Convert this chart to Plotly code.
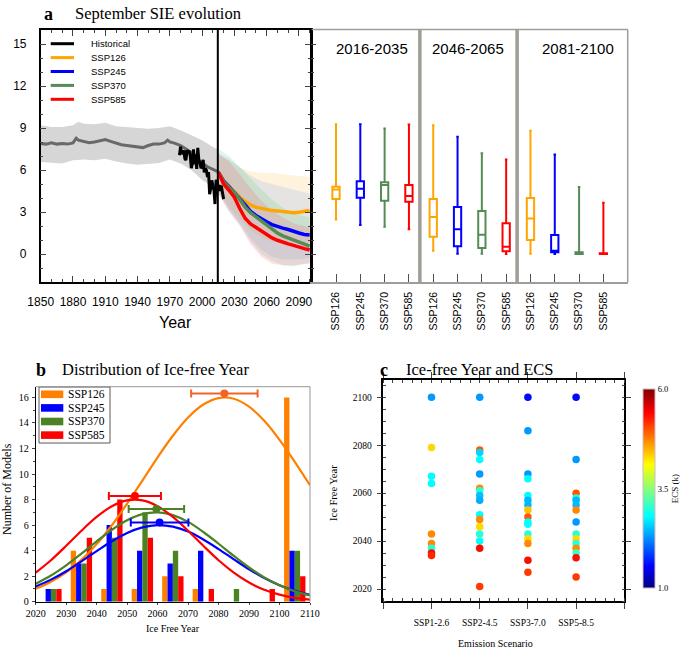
import plotly.graph_objects as go

# ---------------- Panel a data: September sea-ice extent (10^6 km^2) ----------------
hist_mean_years = [1850, 1855, 1860, 1865, 1870, 1875, 1880, 1883, 1885, 1890, 1895, 1900, 1905, 1910,
                   1915, 1920, 1925, 1930, 1935, 1940, 1945, 1950, 1955, 1960, 1965, 1968, 1970, 1975,
                   1980, 1985, 1990, 1995, 2000, 2005, 2010, 2014]
hist_mean = [7.90, 7.85, 7.95, 7.85, 7.90, 7.85, 7.94, 8.27, 8.13, 8.04, 7.95, 8.00, 8.08, 8.18,
             8.05, 7.90, 7.80, 7.75, 7.70, 7.65, 7.60, 7.75, 7.85, 7.85, 7.94, 8.13, 8.00, 7.90,
             7.75, 7.50, 7.23, 6.85, 6.50, 6.23, 6.04, 5.90]
hist_band_years = [1850, 1860, 1870, 1880, 1885, 1890, 1900, 1910, 1920, 1930, 1940, 1950, 1960,
                   1970, 1980, 1990, 2000, 2010, 2014]
hist_band_hi = [9.20, 9.08, 9.08, 9.20, 9.44, 9.30, 9.27, 9.37, 9.13, 9.05, 9.00, 8.94, 9.00,
                9.13, 8.84, 8.50, 8.13, 7.65, 7.50]
hist_band_lo = [6.58, 6.50, 6.47, 6.70, 6.72, 6.75, 6.70, 6.80, 6.60, 6.47, 6.37, 6.45, 6.50,
                6.75, 6.47, 6.00, 5.28, 4.80, 4.56]

obs_years = list(range(1979, 2021))
obs_sie = [7.05, 7.67, 7.14, 7.30, 7.39, 6.81, 6.70, 7.41, 7.28, 7.37, 7.01, 6.14, 6.47, 7.47,
           6.40, 7.14, 6.08, 7.58, 6.69, 6.54, 6.12, 6.25, 6.73, 5.83, 6.12, 5.98, 5.50, 5.86,
           4.27, 4.69, 5.26, 4.87, 4.56, 3.57, 5.21, 5.22, 4.62, 4.53, 4.82, 4.79, 4.36, 3.92]

proj_years = [2015, 2020, 2025, 2030, 2035, 2040, 2045, 2050, 2055, 2060, 2065, 2070, 2075, 2080,
              2085, 2090, 2095, 2100]
ssp126_mean = [5.85, 5.25, 4.85, 4.45, 4.05, 3.75, 3.50, 3.35, 3.25, 3.15, 3.10, 3.08, 3.02, 2.98,
               2.95, 2.98, 3.02, 3.10]
ssp245_mean = [5.85, 5.20, 4.80, 4.40, 3.95, 3.50, 3.05, 2.75, 2.50, 2.30, 2.10, 1.95, 1.85, 1.75,
               1.60, 1.50, 1.40, 1.36]
ssp370_mean = [5.85, 5.15, 4.75, 4.40, 3.90, 3.35, 2.95, 2.65, 2.40, 2.10, 1.80, 1.50, 1.30, 1.15,
               1.00, 0.82, 0.68, 0.57]
ssp585_mean = [5.85, 5.00, 4.55, 4.05, 3.25, 2.55, 2.15, 1.90, 1.65, 1.40, 1.15, 0.98, 0.82, 0.72,
               0.62, 0.48, 0.38, 0.29]

proj_band_years = [2015, 2025, 2035, 2045, 2055, 2065, 2075, 2085, 2100]
ssp126_hi = [7.0, 6.7, 6.2, 5.9, 5.8, 5.8, 5.7, 5.6, 5.5]
ssp126_lo = [4.5, 3.4, 2.5, 1.7, 1.2, 0.9, 0.8, 0.8, 0.8]
ssp245_hi = [7.2, 6.8, 6.2, 5.6, 5.2, 5.0, 4.8, 4.6, 4.3]
ssp245_lo = [4.4, 3.2, 2.2, 1.1, 0.3, -0.2, -0.4, -0.4, -0.3]
ssp370_hi = [7.5, 7.0, 6.2, 5.4, 4.6, 3.9, 3.3, 2.9, 2.6]
ssp370_lo = [4.4, 3.1, 2.1, 0.9, 0.0, -0.5, -0.8, -0.9, -0.6]
ssp585_hi = [7.2, 6.6, 5.7, 4.7, 3.8, 3.1, 2.6, 2.2, 1.9]
ssp585_lo = [4.3, 3.0, 2.0, 0.7, -0.2, -0.7, -0.8, -0.8, -0.7]

# box plots: 3 periods x 4 scenarios
period_labels = ["2016-2035", "2046-2065", "2081-2100"]
box_labels = ["SSP126", "SSP245", "SSP370", "SSP585"] * 3
box_max = [9.27, 9.27, 8.96, 9.25, 9.20, 8.37, 7.20, 6.75, 8.80, 7.10, 4.78, 3.66]
box_q3 = [4.80, 5.20, 5.13, 4.92, 3.92, 3.35, 3.07, 2.19, 4.00, 1.36, 0.12, 0.05]
box_med = [4.60, 4.66, 4.92, 4.14, 2.64, 1.76, 1.38, 0.52, 2.54, 0.24, 0.03, 0.00]
box_q1 = [3.92, 4.02, 3.80, 3.73, 1.23, 0.55, 0.43, 0.19, 1.00, 0.12, 0.00, 0.00]
box_min = [2.47, 2.07, 1.95, 1.76, 0.24, 0.02, 0.02, 0.00, 0.02, 0.00, 0.00, 0.00]

# ---------------- Panel b data ----------------
bin_centers = [2025, 2035, 2045, 2055, 2065, 2075, 2085, 2095, 2105]
count_ssp126 = [0, 4, 1, 1, 2, 1, 0, 0, 16]
count_ssp245 = [1, 3, 6, 4, 3, 4, 0, 0, 4]
count_ssp370 = [1, 3, 5, 7, 4, 0, 1, 0, 4]
count_ssp585 = [1, 5, 8, 5, 2, 1, 0, 1, 2]
fit_years = [2020, 2025, 2030, 2035, 2040, 2045, 2050, 2055, 2060, 2065, 2070, 2075, 2080, 2085,
             2090, 2095, 2100, 2105, 2110]
fit_ssp126 = [1.01, 1.56, 2.30, 3.28, 4.51, 5.99, 7.68, 9.48, 11.31, 13.00, 14.43, 15.45, 15.95,
              15.90, 15.28, 14.17, 12.68, 10.95, 9.12]
fit_ssp245 = [1.19, 1.73, 2.39, 3.16, 3.96, 4.73, 5.38, 5.82, 6.00, 5.88, 5.49, 4.87, 4.12, 3.32,
              2.54, 1.85, 1.29, 0.85, 0.53]
fit_ssp370 = [1.40, 2.05, 2.85, 3.76, 4.73, 5.63, 6.38, 6.86, 7.00, 6.78, 6.25, 5.46, 4.54, 3.58,
              2.68, 1.90, 1.29, 0.82, 0.50]
fit_ssp585 = [2.28, 3.25, 4.38, 5.56, 6.64, 7.48, 7.94, 7.94, 7.48, 6.64, 5.56, 4.38, 3.25, 2.28,
              1.50, 0.93, 0.55, 0.30, 0.16]
mean_year = [2081.9, 2060.65, 2059.6, 2052.55]
mean_err = [10.9, 9.45, 9.1, 8.55]
mean_level = [16.3, 6.2, 7.26, 8.28]

# ---------------- Panel c data ----------------
scen_c = ["SSP1-2.6", "SSP2-4.5", "SSP3-7.0", "SSP5-8.5"]
yr_126 = [2100, 2079, 2067, 2064, 2043, 2039, 2037, 2035, 2034]
ecs_126 = [2.3, 4.3, 2.8, 2.8, 4.7, 4.7, 3.0, 5.35, 5.2]
yr_245 = [2100, 2078, 2077, 2074, 2068, 2062, 2061, 2059, 2057, 2051, 2049, 2046, 2043, 2040, 2037, 2021]
ecs_245 = [2.3, 4.95, 2.6, 2.8, 2.3, 4.7, 3.0, 2.5, 2.4, 2.8, 4.7, 4.3, 3.0, 2.8, 5.35, 5.1]
yr_370 = [2100, 2086, 2068, 2066, 2059, 2057, 2055, 2053, 2050, 2048, 2047, 2043, 2041, 2039, 2032, 2027]
ecs_370 = [1.6, 2.3, 2.3, 2.8, 2.8, 2.45, 2.45, 4.4, 4.95, 2.8, 2.8, 3.0, 4.3, 4.7, 5.35, 5.1]
yr_585 = [2100, 2074, 2060, 2058, 2057, 2055, 2053, 2048, 2043, 2041, 2039, 2037, 2035, 2033, 2025]
ecs_585 = [1.6, 2.3, 4.95, 3.0, 2.45, 2.45, 4.7, 2.3, 3.0, 4.3, 3.0, 4.7, 3.1, 5.35, 5.1]

# ---------------- styling ----------------
W, H = 685, 648
SANS = "Liberation Sans"
SERIF = "Liberation Serif"


def fx(p):
    return p / W


def fy(p):
    return 1 - p / H


col_a = {"SSP126": "rgb(255,165,0)", "SSP245": "rgb(0,0,255)", "SSP370": "rgb(85,140,85)",
         "SSP585": "rgb(255,0,0)"}
fill_a = {"SSP126": "rgba(255,165,0,0.13)", "SSP245": "rgba(80,140,255,0.14)",
          "SSP370": "rgba(60,200,110,0.16)", "SSP585": "rgba(255,60,100,0.16)"}
col_b = {"SSP126": "rgb(255,128,0)", "SSP245": "rgb(0,0,255)", "SSP370": "rgb(75,130,35)",
         "SSP585": "rgb(255,0,0)"}
err_col = ["rgb(240,100,40)", "rgb(0,0,255)", "rgb(75,130,35)", "rgb(255,0,0)"]
jet = [[0.0, "rgb(0,0,128)"], [0.11, "rgb(0,0,255)"], [0.36, "rgb(0,255,255)"],
       [0.62, "rgb(255,255,0)"], [0.88, "rgb(255,0,0)"], [1.0, "rgb(128,0,0)"]]

fig = go.Figure()

# ---- panel a: historical band & mean ----
fig.add_trace(go.Scatter(x=hist_band_years + hist_band_years[::-1], y=hist_band_hi + hist_band_lo[::-1],
                         fill="toself", fillcolor="rgb(214,214,214)", line=dict(width=0),
                         mode="lines", hoverinfo="skip", xaxis="x", yaxis="y"))
proj = [("SSP126", ssp126_mean, ssp126_hi, ssp126_lo), ("SSP245", ssp245_mean, ssp245_hi, ssp245_lo),
        ("SSP370", ssp370_mean, ssp370_hi, ssp370_lo), ("SSP585", ssp585_mean, ssp585_hi, ssp585_lo)]
for name, m, hi, lo in proj:
    fig.add_trace(go.Scatter(x=proj_band_years + proj_band_years[::-1], y=hi + lo[::-1],
                             fill="toself", fillcolor=fill_a[name], line=dict(width=0),
                             mode="lines", hoverinfo="skip", xaxis="x", yaxis="y"))
fig.add_trace(go.Scatter(x=hist_mean_years, y=hist_mean, mode="lines",
                         line=dict(color="rgb(105,105,105)", width=3), xaxis="x", yaxis="y"))
fig.add_trace(go.Scatter(x=obs_years, y=obs_sie, mode="lines",
                         line=dict(color="black", width=3), xaxis="x", yaxis="y"))
for name, m, hi, lo in proj:
    fig.add_trace(go.Scatter(x=proj_years, y=m, mode="lines",
                             line=dict(color=col_a[name], width=3.5), xaxis="x", yaxis="y"))

# ---- panel a: box plots ----
for i in range(12):
    fig.add_trace(go.Box(x=[i + 1], q1=[box_q1[i]], median=[box_med[i]], q3=[box_q3[i]],
                         lowerfence=[box_min[i]], upperfence=[box_max[i]],
                         line=dict(color=col_a[box_labels[i]], width=2),
                         fillcolor="rgba(255,255,255,0)", width=0.3, whiskerwidth=0.35,
                         boxpoints=False, orientation="v", xaxis="x2", yaxis="y2"))

# ---- panel b ----
bar_offsets = [-2.625, -0.875, 0.875, 2.625]
counts = [count_ssp126, count_ssp245, count_ssp370, count_ssp585]
fits = [fit_ssp126, fit_ssp245, fit_ssp370, fit_ssp585]
names = ["SSP126", "SSP245", "SSP370", "SSP585"]
for k, name in enumerate(names):
    fig.add_trace(go.Bar(x=[c + bar_offsets[k] for c in bin_centers], y=counts[k], width=1.75,
                         marker=dict(color=col_b[name], line=dict(width=0)), xaxis="x3", yaxis="y3"))
for k, name in enumerate(names):
    fig.add_trace(go.Scatter(x=fit_years, y=fits[k], mode="lines",
                             line=dict(color=col_b[name], width=2.2, shape="spline"),
                             xaxis="x3", yaxis="y3"))
for k in range(4):
    fig.add_trace(go.Scatter(x=[mean_year[k]], y=[mean_level[k]], mode="markers",
                             marker=dict(color=err_col[k], size=8),
                             error_x=dict(type="data", array=[mean_err[k]], color=err_col[k],
                                          thickness=2, width=4),
                             xaxis="x3", yaxis="y3"))

# ---- panel c ----
for k, (yrs, ecs) in enumerate([(yr_126, ecs_126), (yr_245, ecs_245), (yr_370, ecs_370), (yr_585, ecs_585)]):
    fig.add_trace(go.Scatter(x=[k + 1] * len(yrs), y=yrs, mode="markers",
                             marker=dict(size=7.5, color=ecs, coloraxis="coloraxis", line=dict(width=0)),
                             xaxis="x4", yaxis="y4"))

# ---------------- layout ----------------
tick_a = dict(family=SANS, size=12, color="black")
tick_s = dict(family=SERIF, size=10, color="black")

shapes = []
annotations = []

# panel a vertical line at 2014
shapes.append(dict(type="line", xref="x", yref="y", x0=2014.6, x1=2014.6, y0=-2, y1=16,
                   line=dict(color="black", width=2)))
# box panel frame (gray) and separators
gray = "rgb(160,156,150)"
shapes.append(dict(type="line", xref="paper", yref="paper", x0=fx(311.7), x1=fx(627.7), y0=fy(29.5), y1=fy(29.5),
                   line=dict(color=gray, width=1.5)))
shapes.append(dict(type="line", xref="paper", yref="paper", x0=fx(627.7), x1=fx(627.7), y0=fy(29.5), y1=fy(282),
                   line=dict(color=gray, width=1.5)))
for sx in [4.45, 8.45]:
    shapes.append(dict(type="line", xref="x2", yref="y2", x0=sx, x1=sx, y0=-2, y1=16,
                       line=dict(color=gray, width=3.5)))
for j, lab in enumerate(period_labels):
    annotations.append(dict(text=lab, xref="x2", yref="y2", x=[2.47, 6.44, 10.94][j], y=14.67,
                            xanchor="center", yanchor="middle",
                            showarrow=False, font=dict(family=SANS, size=15, color="black")))

# panel a legend
leg_items = [("Historical", "black"), ("SSP126", col_a["SSP126"]), ("SSP245", col_a["SSP245"]),
             ("SSP370", col_a["SSP370"]), ("SSP585", col_a["SSP585"])]
for j, (lab, c) in enumerate(leg_items):
    yy = 43.7 + j * 13.9
    shapes.append(dict(type="line", xref="paper", yref="paper", x0=fx(50.7), x1=fx(74), y0=fy(yy), y1=fy(yy),
                       line=dict(color=c, width=3)))
    annotations.append(dict(text=lab, xref="paper", yref="paper", x=fx(89), y=fy(yy), xanchor="left",
                            yanchor="middle", showarrow=False, font=dict(family=SANS, size=9.5, color="black")))

# panel b legend
shapes.append(dict(type="rect", xref="paper", yref="paper", x0=fx(39), x1=fx(110), y0=fy(443), y1=fy(387),
                   line=dict(color="rgb(90,90,90)", width=1), fillcolor="white", layer="above"))
for j, name in enumerate(names):
    yy = 394.3 + j * 13.6
    shapes.append(dict(type="rect", xref="paper", yref="paper", x0=fx(41), x1=fx(63.3), y0=fy(yy + 3.8),
                       y1=fy(yy - 3.8), line=dict(width=0), fillcolor=col_b[name], layer="above"))
    annotations.append(dict(text=name, xref="paper", yref="paper", x=fx(66), y=fy(yy), xanchor="left",
                            yanchor="middle", showarrow=False, font=dict(family=SERIF, size=11.5, color="black")))
# panel b gray top/right frame
shapes.append(dict(type="line", xref="paper", yref="paper", x0=fx(35.7), x1=fx(310), y0=fy(386.7), y1=fy(386.7),
                   line=dict(color="rgb(150,150,150)", width=1)))
shapes.append(dict(type="line", xref="paper", yref="paper", x0=fx(310), x1=fx(310), y0=fy(386.7), y1=fy(601.7),
                   line=dict(color="rgb(150,150,150)", width=1)))

# titles
def title(letter, text, xl, xt, yc):
    annotations.append(dict(text="<b>%s</b>" % letter, xref="paper", yref="paper", x=fx(xl), y=fy(yc),
                            xanchor="left", yanchor="middle", showarrow=False,
                            font=dict(family=SERIF, size=18, color="black")))
    annotations.append(dict(text=text, xref="paper", yref="paper", x=fx(xt), y=fy(yc),
                            xanchor="left", yanchor="middle", showarrow=False,
                            font=dict(family=SERIF, size=16.5, color="black")))


title("a", "September SIE evolution", 41.5, 73, 13.5)
title("b", "Distribution of Ice-free Year", 34, 60, 369.5)
title("c", "Ice-free Year and ECS", 378, 404, 369.5)


def centered(text, x, y, size, family, angle=0):
    annotations.append(dict(text=text, xref="paper", yref="paper", x=fx(x), y=fy(y), textangle=angle,
                            xanchor="center", yanchor="middle", showarrow=False,
                            font=dict(family=family, size=size, color="black")))


# axis titles
centered("Year", 175, 322, 16, SANS)
centered("Number of Models", 7, 489, 12, SERIF, -90)
centered("Ice Free Year", 173, 628, 10, SERIF)
centered("Ice Free Year", 333, 493, 10.5, SERIF, -90)
centered("Emission Scenario", 495, 643, 10, SERIF)

fig.update_layout(
    width=W, height=H, margin=dict(l=0, r=0, t=0, b=0, autoexpand=False), plot_bgcolor="white",
    paper_bgcolor="white", showlegend=False, barmode="overlay",
    xaxis=dict(domain=[fx(40.7), fx(311.2)], anchor="y", range=[1850, 2101.4], tickvals=list(range(1850, 2091, 30)),
               ticks="inside", ticklen=6, tickwidth=1, showline=True, linecolor="black", linewidth=1.5,
               mirror="ticks", showgrid=False, zeroline=False, tickfont=tick_a, ticklabelstandoff=8,
               minor=dict(dtick=10, tick0=1850, ticks="inside", ticklen=3, showgrid=False)),
    yaxis=dict(domain=[fy(282), fy(30)], anchor="x", range=[-2, 16], tickvals=[0, 3, 6, 9, 12, 15],
               ticks="inside", ticklen=6, showline=True, linecolor="black", linewidth=1.5, mirror="ticks",
               showgrid=False, zeroline=False, tickfont=tick_a, ticklabelstandoff=10,
               minor=dict(dtick=1, tick0=0, ticks="inside", ticklen=3, showgrid=False)),
    xaxis2=dict(domain=[fx(311.7), fx(627.7)], anchor="y2", range=[0, 13], tickvals=list(range(1, 13)),
                ticktext=box_labels, tickangle=-90, ticks="inside", ticklen=8, tickcolor="rgb(80,80,80)",
                showline=True, linecolor=gray, linewidth=1.5, showgrid=False, zeroline=False,
                tickfont=dict(family=SANS, size=10.5, color="black"), ticklabelstandoff=4),
    yaxis2=dict(domain=[fy(282), fy(30)], anchor="x2", range=[-2, 16], tickvals=[0, 3, 6, 9, 12, 15],
                ticks="inside", ticklen=5, showline=True, linecolor="black", linewidth=1.5, showticklabels=False,
                showgrid=False, zeroline=False,
                minor=dict(dtick=1, tick0=0, ticks="inside", ticklen=3, showgrid=False)),
    xaxis3=dict(domain=[fx(35.7), fx(310)], anchor="y3", range=[2020, 2110], tickvals=list(range(2020, 2111, 10)),
                ticks="outside", ticklen=2, showline=True, linecolor="black", linewidth=1, showgrid=False,
                zeroline=False, tickfont=tick_s, ticklabelstandoff=0),
    yaxis3=dict(domain=[fy(601.7), fy(386.7)], anchor="x3", range=[0, 16.84], tickvals=list(range(0, 17, 2)),
                ticks="outside", ticklen=3, showline=True, linecolor="black", linewidth=1, showgrid=False,
                zeroline=False, tickfont=tick_s, ticklabelstandoff=1,
                minor=dict(dtick=1, tick0=0, ticks="outside", ticklen=2, showgrid=False)),
    xaxis4=dict(domain=[fx(383.3), fx(624.3)], anchor="y4", range=[0, 5], tickvals=[0, 1, 2, 3, 4, 5],
                ticktext=[""] + scen_c + [""], ticks="outside", ticklen=6, showline=True, linecolor="black",
                linewidth=1.5, mirror="ticks", showgrid=False, zeroline=False,
                tickfont=dict(family=SERIF, size=9.5, color="black"), ticklabelstandoff=6,
                minor=dict(dtick=0.2, tick0=0, ticks="inside", ticklen=3, showgrid=False)),
    yaxis4=dict(domain=[fy(601), fy(380)], anchor="x4", range=[2015, 2107.2], tickvals=list(range(2020, 2101, 20)),
                ticks="outside", ticklen=5, showline=True, linecolor="black", linewidth=1.5, mirror="ticks",
                showgrid=False, zeroline=False, tickfont=dict(family=SERIF, size=9.5, color="black"),
                ticklabelstandoff=3,
                minor=dict(dtick=5, tick0=2020, ticks="inside", ticklen=3, showgrid=False)),
    coloraxis=dict(cmin=1, cmax=6, colorscale=jet,
                   colorbar=dict(x=fx(643.3), xanchor="left", y=fy(488.65), yanchor="middle",
                                 len=199.3 / H, lenmode="fraction", thickness=12.4, thicknessmode="pixels",
                                 xpad=0, ypad=0, outlinewidth=1, outlinecolor="rgb(215,185,195)",
                                 ticks="", tickvals=[1, 3.5, 6], ticktext=["1.0", "3.5", "6.0"],
                                 tickfont=dict(family=SERIF, size=8.5, color="black"),
                                 title=dict(text="ECS (k)", side="right",
                                            font=dict(family=SERIF, size=9, color="black")))),
    shapes=shapes, annotations=annotations,
)

fig.write_html("out.html", config={"displayModeBar": False},
               post_script="document.body.style.margin='0';document.body.style.overflow='hidden';")
